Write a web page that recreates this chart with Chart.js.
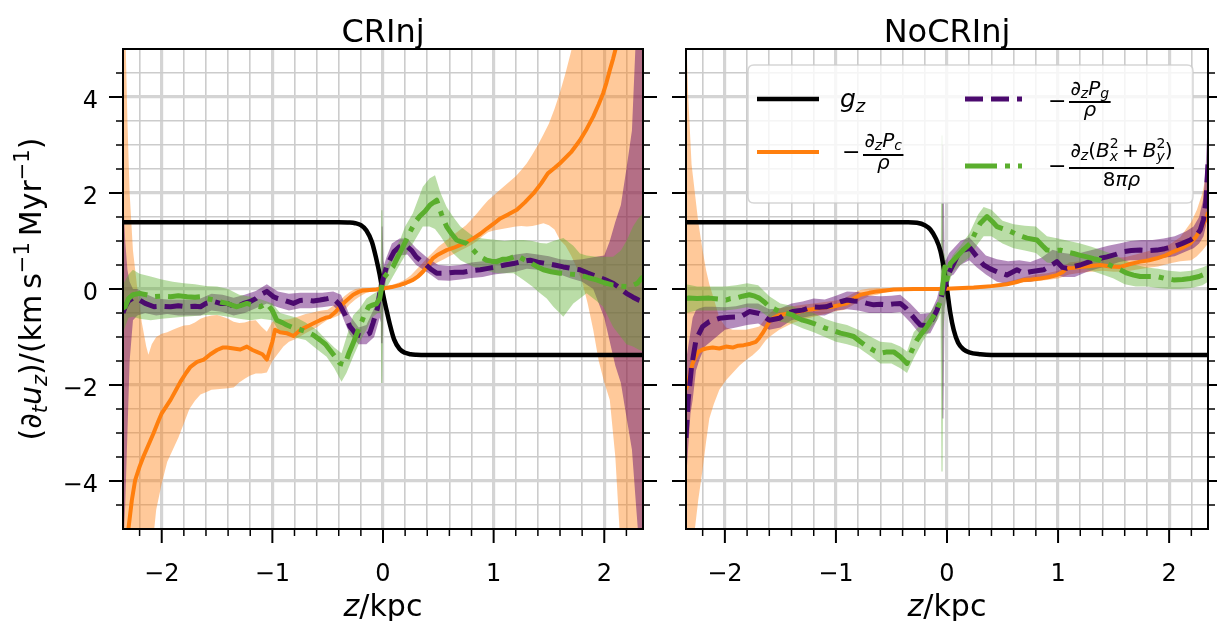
<!DOCTYPE html>
<html lang="en">
<head>
<meta charset="UTF-8">
<title>CRInj / NoCRInj vertical acceleration terms</title>
<script src="https://cdn.jsdelivr.net/npm/chart.js"></script>
<style>
  html, body { margin: 0; padding: 0; background: #fff; overflow: hidden; }
  .wrap { position: relative; width: 1217px; height: 621px; }
  canvas { position: absolute; top: 0; }
  #crChart { left: 0; }
  #ncChart { left: 665px; }
</style>
</head>
<body>
<div class="wrap">
  <canvas id="crChart" width="665" height="621"></canvas>
  <canvas id="ncChart" width="552" height="621"></canvas>
</div>
<script>
// ---- ticks ----
const xMajor = [-2, -1, 0, 1, 2];
const xMinor = [-2.2, -1.8, -1.6, -1.4, -1.2, -0.8, -0.6, -0.4, -0.2, 0.2, 0.4, 0.6, 0.8, 1.2, 1.4, 1.6, 1.8, 2.2];
const yMajor = [-4, -2, 0, 2, 4];
const yMinor = [-4.5, -3.5, -3, -2.5, -1.5, -1, -0.5, 0.5, 1, 1.5, 2.5, 3, 3.5, 4.5];
const panelTitles = ['CRInj', 'NoCRInj'];

// ---- CRInj panel: [z, value] and bands [z, lower, upper] ----
const crGz = [[-2.35,1.39],[-0.4,1.39],[-0.3,1.385],[-0.25,1.37],[-0.2,1.33],[-0.15,1.22],[-0.1,0.98],[-0.06,0.62],[-0.03,0.3],[0,-0.1],[0.03,-0.42],[0.06,-0.72],[0.1,-1.05],[0.15,-1.25],[0.2,-1.33],[0.25,-1.36],[0.3,-1.37],[0.4,-1.375],[2.35,-1.375]];

const crPc = [[-2.33,-5.6],[-2.30,-4.98],[-2.27,-4.4],[-2.24,-3.98],[-2.20,-3.7],[-2.165,-3.49],[-2.12,-3.25],[-2.075,-3.01],[-2.03,-2.75],[-2.00,-2.59],[-1.96,-2.45],[-1.92,-2.31],[-1.87,-2.1],[-1.83,-1.93],[-1.78,-1.75],[-1.74,-1.62],[-1.68,-1.52],[-1.62,-1.47],[-1.56,-1.36],[-1.50,-1.27],[-1.45,-1.22],[-1.41,-1.22],[-1.35,-1.24],[-1.29,-1.26],[-1.23,-1.20],[-1.18,-1.27],[-1.14,-1.31],[-1.09,-1.36],[-1.05,-1.47],[-1.00,-1.10],[-0.976,-0.85],[-0.93,-0.90],[-0.87,-0.92],[-0.81,-0.98],[-0.76,-0.88],[-0.72,-0.82],[-0.65,-0.74],[-0.57,-0.65],[-0.52,-0.60],[-0.48,-0.58],[-0.43,-0.48],[-0.39,-0.37],[-0.33,-0.24],[-0.27,-0.12],[-0.22,-0.06],[-0.18,-0.03],[-0.12,-0.02],[-0.06,-0.01],[0,0.01],[0.08,0.04],[0.15,0.08],[0.21,0.13],[0.27,0.19],[0.32,0.27],[0.36,0.36],[0.41,0.50],[0.45,0.64],[0.50,0.72],[0.575,0.81],[0.64,0.86],[0.70,0.92],[0.76,0.98],[0.82,1.06],[0.88,1.15],[0.94,1.26],[1.00,1.36],[1.06,1.47],[1.13,1.55],[1.21,1.65],[1.28,1.80],[1.36,1.99],[1.43,2.20],[1.49,2.41],[1.55,2.52],[1.60,2.62],[1.70,2.85],[1.78,3.10],[1.84,3.33],[1.90,3.59],[1.95,3.85],[1.99,4.08],[2.02,4.30],[2.05,4.56],[2.08,4.80],[2.10,4.98],[2.13,5.5]];

const crPcBand = [[-2.35,-5.5,5.5],[-2.33,-5.5,5.5],[-2.31,-5.5,3.5],[-2.29,-5.5,2.0],[-2.26,-5.5,0.8],[-2.22,-5.5,0.0],[-2.18,-5.5,-0.7],[-2.14,-5.5,-1.2],[-2.12,-5.5,-1.37],[-2.09,-5.5,-1.15],[-2.05,-4.6,-1.0],[-2.0,-4.05,-0.93],[-1.95,-3.6,-0.9],[-1.9,-3.35,-0.85],[-1.85,-3.1,-0.8],[-1.8,-2.8,-0.76],[-1.75,-2.5,-0.75],[-1.7,-2.33,-0.7],[-1.65,-2.2,-0.62],[-1.6,-2.15,-0.58],[-1.55,-2.1,-0.55],[-1.5,-2.09,-0.54],[-1.45,-2.08,-0.58],[-1.4,-2.07,-0.62],[-1.35,-2.05,-0.68],[-1.3,-1.95,-0.71],[-1.25,-1.87,-0.7],[-1.2,-1.8,-0.66],[-1.15,-1.76,-0.65],[-1.1,-1.76,-0.78],[-1.05,-1.74,-0.89],[-1.0,-1.5,-0.68],[-0.95,-1.35,-0.66],[-0.9,-1.2,-0.64],[-0.85,-1.1,-0.63],[-0.8,-1.05,-0.6],[-0.75,-0.99,-0.56],[-0.7,-0.92,-0.52],[-0.65,-0.86,-0.5],[-0.6,-0.8,-0.47],[-0.55,-0.72,-0.45],[-0.5,-0.64,-0.43],[-0.45,-0.6,-0.35],[-0.4,-0.55,-0.26],[-0.35,-0.45,-0.15],[-0.3,-0.32,-0.06],[-0.25,-0.22,0.0],[-0.2,-0.14,0.02],[-0.15,-0.08,0.02],[-0.1,-0.05,0.02],[-0.05,-0.04,0.03],[0,-0.03,0.05],[0.05,0.0,0.07],[0.1,0.03,0.1],[0.15,0.05,0.14],[0.2,0.08,0.2],[0.25,0.12,0.28],[0.3,0.18,0.4],[0.35,0.27,0.52],[0.4,0.4,0.65],[0.45,0.5,0.76],[0.5,0.56,0.88],[0.55,0.62,0.97],[0.6,0.68,1.06],[0.65,0.74,1.15],[0.7,0.8,1.24],[0.75,0.86,1.33],[0.8,0.92,1.45],[0.85,1.0,1.58],[0.9,1.1,1.72],[0.95,1.18,1.85],[1.0,1.22,1.95],[1.05,1.24,2.05],[1.1,1.26,2.15],[1.15,1.28,2.25],[1.2,1.3,2.35],[1.25,1.31,2.48],[1.3,1.3,2.62],[1.35,1.31,2.8],[1.4,1.34,3.0],[1.45,1.37,3.22],[1.5,1.33,3.45],[1.55,1.24,3.75],[1.6,1.02,4.1],[1.65,0.9,4.5],[1.7,0.7,4.95],[1.75,0.45,5.5],[1.8,0.15,5.5],[1.85,-0.3,5.5],[1.9,-0.85,5.5],[1.95,-1.5,5.5],[2.0,-1.95,5.5],[2.05,-2.31,5.5],[2.1,-3.5,5.5],[2.15,-5.5,5.5],[2.35,-5.5,5.5]];

const crPg = [[-2.35,-0.5],[-2.33,-0.37],[-2.3,-0.25],[-2.26,-0.19],[-2.2,-0.23],[-2.15,-0.3],[-2.07,-0.37],[-2.0,-0.36],[-1.92,-0.37],[-1.85,-0.35],[-1.77,-0.37],[-1.7,-0.36],[-1.65,-0.37],[-1.6,-0.3],[-1.53,-0.26],[-1.47,-0.3],[-1.41,-0.3],[-1.36,-0.35],[-1.32,-0.37],[-1.26,-0.3],[-1.2,-0.26],[-1.15,-0.2],[-1.11,-0.12],[-1.05,-0.05],[-0.99,-0.16],[-0.95,-0.2],[-0.9,-0.23],[-0.85,-0.27],[-0.81,-0.3],[-0.75,-0.24],[-0.69,-0.23],[-0.63,-0.25],[-0.57,-0.23],[-0.52,-0.21],[-0.48,-0.19],[-0.43,-0.24],[-0.39,-0.33],[-0.34,-0.55],[-0.30,-0.78],[-0.24,-0.95],[-0.18,-0.99],[-0.12,-0.92],[-0.09,-0.71],[-0.05,-0.4],[-0.03,-0.1],[0,0.2],[0.03,0.45],[0.06,0.6],[0.1,0.78],[0.15,0.88],[0.21,0.9],[0.26,0.8],[0.3,0.67],[0.35,0.57],[0.39,0.5],[0.44,0.4],[0.485,0.33],[0.575,0.33],[0.65,0.35],[0.725,0.35],[0.8,0.38],[0.88,0.40],[0.95,0.43],[1.03,0.46],[1.1,0.5],[1.18,0.53],[1.25,0.57],[1.33,0.6],[1.4,0.56],[1.48,0.53],[1.55,0.5],[1.63,0.46],[1.7,0.43],[1.78,0.40],[1.85,0.33],[1.93,0.26],[2.0,0.2],[2.08,0.12],[2.14,0.02],[2.2,-0.09],[2.26,-0.17],[2.31,-0.23],[2.35,-0.26]];

const crPgBand = [[-2.35,-5.5,2.0],[-2.33,-4.5,1.0],[-2.31,-3.0,0.4],[-2.29,-1.5,0.15],[-2.26,-0.65,0.0],[-2.22,-0.55,0.0],[-2.15,-0.5,-0.1],[-2.05,-0.55,-0.2],[-1.95,-0.52,-0.22],[-1.85,-0.55,-0.22],[-1.75,-0.55,-0.22],[-1.65,-0.55,-0.2],[-1.55,-0.45,-0.1],[-1.45,-0.48,-0.12],[-1.35,-0.55,-0.18],[-1.25,-0.5,-0.12],[-1.15,-0.4,-0.04],[-1.05,-0.3,0.1],[-0.95,-0.38,-0.05],[-0.85,-0.45,-0.1],[-0.75,-0.4,-0.08],[-0.65,-0.4,-0.08],[-0.55,-0.38,-0.08],[-0.45,-0.35,-0.05],[-0.38,-0.5,-0.12],[-0.3,-0.95,-0.55],[-0.22,-1.15,-0.8],[-0.15,-1.15,-0.75],[-0.08,-1.0,-0.4],[-0.03,-0.6,0.2],[-0.018,-0.7,0.3],[-0.012,-1.13,1.3],[-0.004,-1.13,1.3],[0.003,-0.3,0.6],[0.01,-0.1,0.5],[0.03,0.25,0.65],[0.08,0.55,0.95],[0.15,0.7,1.05],[0.22,0.72,1.05],[0.3,0.5,0.85],[0.4,0.35,0.65],[0.5,0.18,0.5],[0.6,0.17,0.48],[0.7,0.2,0.5],[0.8,0.23,0.55],[0.9,0.25,0.58],[1.0,0.3,0.62],[1.1,0.33,0.66],[1.2,0.36,0.72],[1.3,0.42,0.75],[1.4,0.4,0.72],[1.5,0.36,0.68],[1.6,0.3,0.62],[1.7,0.22,0.6],[1.8,0.15,0.62],[1.9,0.0,0.66],[2.0,-0.6,0.7],[2.05,-1.1,1.0],[2.1,-1.6,1.4],[2.15,-1.96,1.75],[2.2,-2.66,2.5],[2.25,-3.35,3.3],[2.29,-4.6,5.5],[2.32,-5.5,5.5],[2.35,-5.5,5.5]];

const crB = [[-2.35,-0.4],[-2.33,-0.37],[-2.3,-0.2],[-2.26,-0.12],[-2.2,-0.09],[-2.14,-0.12],[-2.07,-0.16],[-2.0,-0.15],[-1.92,-0.16],[-1.85,-0.14],[-1.77,-0.16],[-1.7,-0.17],[-1.65,-0.16],[-1.59,-0.2],[-1.53,-0.23],[-1.47,-0.27],[-1.41,-0.3],[-1.36,-0.34],[-1.32,-0.37],[-1.27,-0.33],[-1.23,-0.3],[-1.17,-0.34],[-1.11,-0.37],[-1.05,-0.3],[-1.0,-0.45],[-0.96,-0.65],[-0.91,-0.7],[-0.87,-0.75],[-0.82,-0.8],[-0.78,-0.82],[-0.73,-0.86],[-0.69,-0.89],[-0.63,-0.96],[-0.57,-1.06],[-0.52,-1.15],[-0.48,-1.27],[-0.43,-1.42],[-0.39,-1.55],[-0.345,-1.58],[-0.31,-1.35],[-0.27,-1.13],[-0.21,-0.78],[-0.17,-0.55],[-0.13,-0.37],[-0.09,-0.33],[-0.06,-0.31],[-0.03,-0.2],[0,0.2],[0.03,0.3],[0.06,0.38],[0.09,0.46],[0.12,0.6],[0.15,0.74],[0.18,0.88],[0.21,1.02],[0.24,1.17],[0.27,1.3],[0.3,1.42],[0.33,1.51],[0.38,1.62],[0.425,1.75],[0.485,1.85],[0.53,1.55],[0.575,1.30],[0.62,1.15],[0.665,1.02],[0.71,0.98],[0.755,0.95],[0.8,0.85],[0.846,0.74],[0.89,0.66],[0.937,0.6],[0.98,0.58],[1.03,0.57],[1.08,0.62],[1.12,0.62],[1.17,0.66],[1.21,0.7],[1.27,0.62],[1.33,0.55],[1.39,0.47],[1.45,0.4],[1.52,0.36],[1.6,0.33],[1.69,0.31],[1.78,0.29],[1.85,0.24],[1.93,0.19],[2.0,0.13],[2.08,0.08],[2.15,0.06],[2.23,0.05],[2.3,0.12],[2.35,0.26]];

const crBBand = [[-2.35,-0.9,0.1],[-2.3,-0.6,0.3],[-2.26,-0.58,0.4],[-2.2,-0.62,0.32],[-2.1,-0.65,0.26],[-2.0,-0.62,0.2],[-1.9,-0.6,0.15],[-1.8,-0.58,0.12],[-1.7,-0.56,0.1],[-1.6,-0.54,0.06],[-1.5,-0.54,0.05],[-1.4,-0.58,0.0],[-1.3,-0.62,-0.12],[-1.2,-0.65,-0.16],[-1.1,-0.62,-0.22],[-1.0,-0.65,-0.3],[-0.93,-0.92,-0.5],[-0.85,-0.98,-0.55],[-0.78,-1.02,-0.6],[-0.7,-1.06,-0.7],[-0.6,-1.25,-0.85],[-0.51,-1.41,-1.06],[-0.44,-1.65,-1.22],[-0.375,-1.93,-1.34],[-0.33,-1.75,-1.0],[-0.27,-1.41,-0.55],[-0.21,-1.1,-0.4],[-0.15,-0.85,-0.2],[-0.1,-0.6,-0.12],[-0.05,-0.5,-0.05],[-0.022,-0.5,0.3],[-0.015,-1.96,1.64],[-0.006,-1.96,1.64],[0.002,-0.4,0.5],[0.02,0.0,0.45],[0.05,0.1,0.55],[0.1,0.3,0.8],[0.15,0.5,1.0],[0.2,0.7,1.3],[0.27,0.95,1.58],[0.36,1.3,2.13],[0.42,1.3,2.3],[0.47,1.25,2.37],[0.52,1.1,2.0],[0.575,0.9,1.71],[0.635,0.74,1.5],[0.7,0.6,1.3],[0.82,0.46,1.09],[0.9,0.4,1.05],[1.03,0.33,1.02],[1.1,0.33,1.0],[1.18,0.33,1.02],[1.27,0.19,1.02],[1.35,0.05,1.0],[1.42,-0.09,0.96],[1.48,-0.2,0.95],[1.54,-0.37,1.0],[1.63,-0.58,1.06],[1.72,-0.3,0.9],[1.78,-0.2,0.74],[1.84,-0.09,0.7],[1.93,-0.25,0.67],[1.99,-0.37,0.67],[2.08,-0.79,0.67],[2.15,-1.0,0.8],[2.2,-1.15,1.0],[2.26,-1.2,1.3],[2.3,-1.25,1.45],[2.35,-1.3,1.58]];

// ---- NoCRInj panel ----
const ncGz = [[-2.35,1.39],[-0.35,1.39],[-0.27,1.38],[-0.2,1.33],[-0.15,1.24],[-0.1,1.05],[-0.06,0.8],[-0.03,0.45],[0,0],[0.03,-0.5],[0.06,-0.85],[0.1,-1.12],[0.15,-1.26],[0.2,-1.32],[0.3,-1.36],[0.4,-1.375],[2.35,-1.375]];

const ncPc = [[-2.35,-2.1],[-2.33,-1.93],[-2.31,-1.72],[-2.29,-1.55],[-2.26,-1.4],[-2.24,-1.31],[-2.2,-1.26],[-2.17,-1.24],[-2.11,-1.22],[-2.05,-1.24],[-1.99,-1.20],[-1.93,-1.22],[-1.88,-1.18],[-1.83,-1.17],[-1.77,-1.14],[-1.72,-1.10],[-1.69,-1.02],[-1.66,-0.92],[-1.63,-0.8],[-1.60,-0.68],[-1.56,-0.6],[-1.51,-0.54],[-1.45,-0.52],[-1.39,-0.51],[-1.33,-0.47],[-1.27,-0.44],[-1.21,-0.42],[-1.15,-0.40],[-1.09,-0.38],[-1.03,-0.37],[-0.96,-0.33],[-0.90,-0.30],[-0.84,-0.2],[-0.78,-0.12],[-0.7,-0.08],[-0.63,-0.05],[-0.55,-0.03],[-0.48,-0.01],[-0.3,0.0],[-0.06,0.0],[0.24,0.03],[0.4,0.06],[0.54,0.10],[0.62,0.14],[0.69,0.19],[0.76,0.2],[0.84,0.22],[0.92,0.25],[0.99,0.29],[1.04,0.35],[1.08,0.43],[1.14,0.44],[1.2,0.46],[1.29,0.48],[1.38,0.5],[1.47,0.47],[1.56,0.46],[1.65,0.52],[1.74,0.57],[1.82,0.6],[1.89,0.64],[1.97,0.7],[2.04,0.78],[2.12,0.86],[2.19,0.95],[2.24,1.08],[2.28,1.23],[2.31,1.36],[2.34,1.51],[2.35,1.6]];

const ncPcBand = [[-2.35,-5.5,5.5],[-2.33,-5.5,4.0],[-2.3,-5.5,2.6],[-2.27,-5.0,2.0],[-2.24,-4.4,1.4],[-2.2,-3.75,0.8],[-2.17,-3.2,0.4],[-2.14,-2.7,0.1],[-2.1,-2.4,-0.2],[-2.05,-2.1,-0.6],[-1.99,-1.9,-0.8],[-1.93,-1.75,-0.85],[-1.87,-1.6,-0.85],[-1.81,-1.48,-0.85],[-1.75,-1.38,-0.82],[-1.69,-1.25,-0.78],[-1.63,-1.06,-0.6],[-1.57,-0.95,-0.45],[-1.51,-0.85,-0.4],[-1.45,-0.78,-0.38],[-1.39,-0.71,-0.36],[-1.3,-0.64,-0.33],[-1.2,-0.58,-0.3],[-1.1,-0.52,-0.27],[-1.0,-0.46,-0.24],[-0.93,-0.44,-0.2],[-0.85,-0.34,-0.1],[-0.78,-0.23,-0.02],[-0.7,-0.15,0.01],[-0.63,-0.12,0.02],[-0.55,-0.07,0.02],[-0.45,-0.03,0.02],[-0.3,-0.02,0.02],[-0.1,-0.02,0.02],[0.1,-0.01,0.03],[0.3,0.0,0.06],[0.5,0.06,0.13],[0.6,0.1,0.18],[0.7,0.14,0.25],[0.8,0.16,0.3],[0.9,0.19,0.33],[1.0,0.22,0.38],[1.1,0.3,0.55],[1.2,0.34,0.58],[1.3,0.36,0.6],[1.4,0.38,0.64],[1.5,0.36,0.65],[1.6,0.36,0.66],[1.7,0.4,0.72],[1.8,0.44,0.78],[1.9,0.47,0.84],[2.0,0.53,0.92],[2.1,0.58,1.08],[2.2,0.6,1.4],[2.25,0.68,1.65],[2.3,0.8,2.0],[2.35,0.95,2.6]];

const ncPg = [[-2.35,-3.1],[-2.33,-2.3],[-2.3,-1.62],[-2.26,-1.06],[-2.2,-0.78],[-2.14,-0.68],[-2.05,-0.61],[-1.96,-0.59],[-1.86,-0.58],[-1.78,-0.47],[-1.69,-0.51],[-1.6,-0.65],[-1.51,-0.61],[-1.45,-0.52],[-1.39,-0.47],[-1.3,-0.44],[-1.21,-0.37],[-1.15,-0.38],[-1.09,-0.37],[-1.0,-0.30],[-0.95,-0.26],[-0.9,-0.23],[-0.84,-0.25],[-0.78,-0.26],[-0.72,-0.3],[-0.66,-0.33],[-0.6,-0.32],[-0.54,-0.33],[-0.48,-0.31],[-0.42,-0.30],[-0.37,-0.4],[-0.33,-0.51],[-0.28,-0.65],[-0.24,-0.75],[-0.19,-0.76],[-0.15,-0.71],[-0.09,-0.44],[-0.03,-0.02],[0.01,0.3],[0.06,0.53],[0.1,0.72],[0.15,0.81],[0.21,0.85],[0.27,0.67],[0.33,0.5],[0.39,0.42],[0.45,0.36],[0.54,0.29],[0.63,0.4],[0.69,0.33],[0.75,0.36],[0.81,0.38],[0.87,0.40],[0.93,0.48],[0.99,0.57],[1.04,0.45],[1.08,0.43],[1.14,0.47],[1.2,0.5],[1.26,0.55],[1.32,0.6],[1.38,0.64],[1.44,0.67],[1.52,0.72],[1.59,0.78],[1.66,0.8],[1.74,0.81],[1.81,0.8],[1.89,0.81],[1.96,0.84],[2.04,0.88],[2.12,0.95],[2.19,1.02],[2.24,1.1],[2.28,1.23],[2.31,1.45],[2.33,1.8],[2.35,2.6]];

const ncPgBand = [[-2.35,-4.0,-1.5],[-2.33,-3.3,-1.2],[-2.31,-2.6,-0.9],[-2.29,-2.31,-0.6],[-2.26,-1.7,-0.44],[-2.23,-1.48,-0.4],[-2.18,-1.2,-0.37],[-2.11,-1.06,-0.37],[-2.0,-0.85,-0.38],[-1.9,-0.8,-0.36],[-1.8,-0.75,-0.3],[-1.7,-0.72,-0.3],[-1.6,-0.85,-0.42],[-1.5,-0.8,-0.4],[-1.4,-0.65,-0.3],[-1.3,-0.6,-0.26],[-1.2,-0.55,-0.2],[-1.1,-0.55,-0.22],[-1.0,-0.45,-0.14],[-0.9,-0.42,-0.05],[-0.8,-0.45,-0.06],[-0.7,-0.5,-0.14],[-0.6,-0.5,-0.15],[-0.5,-0.5,-0.14],[-0.42,-0.48,-0.12],[-0.33,-0.7,-0.3],[-0.24,-0.95,-0.52],[-0.15,-0.92,-0.5],[-0.09,-0.65,-0.2],[-0.05,-0.3,0.2],[-0.042,-2.7,3.0],[-0.032,-2.7,3.0],[-0.022,-0.4,0.6],[-0.01,-0.2,0.6],[0.02,0.25,0.75],[0.06,0.3,0.85],[0.12,0.5,1.0],[0.2,0.6,1.08],[0.27,0.45,0.9],[0.35,0.3,0.7],[0.45,0.15,0.62],[0.55,0.1,0.58],[0.65,0.15,0.6],[0.75,0.15,0.56],[0.85,0.2,0.65],[0.95,0.3,0.82],[1.05,0.25,0.75],[1.15,0.25,0.72],[1.25,0.35,0.78],[1.35,0.42,0.84],[1.45,0.48,0.9],[1.55,0.56,0.95],[1.65,0.6,1.0],[1.75,0.6,1.02],[1.85,0.6,1.02],[1.95,0.65,1.05],[2.05,0.68,1.1],[2.15,0.78,1.2],[2.22,0.85,1.3],[2.27,0.95,1.5],[2.31,1.1,1.9],[2.33,1.3,2.6],[2.35,1.6,3.6]];

const ncB = [[-2.35,-0.2],[-2.33,-0.19],[-2.25,-0.2],[-2.14,-0.19],[-2.05,-0.21],[-1.99,-0.23],[-1.95,-0.2],[-1.9,-0.19],[-1.84,-0.15],[-1.78,-0.12],[-1.73,-0.15],[-1.69,-0.19],[-1.64,-0.28],[-1.6,-0.37],[-1.55,-0.42],[-1.51,-0.47],[-1.45,-0.5],[-1.39,-0.54],[-1.35,-0.6],[-1.3,-0.65],[-1.25,-0.68],[-1.21,-0.71],[-1.15,-0.76],[-1.09,-0.82],[-1.03,-0.86],[-0.96,-0.92],[-0.9,-0.95],[-0.84,-0.99],[-0.78,-1.1],[-0.72,-1.20],[-0.66,-1.28],[-0.6,-1.34],[-0.54,-1.31],[-0.48,-1.31],[-0.42,-1.41],[-0.36,-1.55],[-0.32,-1.3],[-0.27,-1.06],[-0.22,-0.9],[-0.18,-0.78],[-0.13,-0.6],[-0.09,-0.44],[-0.05,-0.2],[-0.02,0.46],[0.0,0.2],[0.03,0.53],[0.08,0.65],[0.14,0.8],[0.21,0.95],[0.26,1.2],[0.30,1.37],[0.36,1.51],[0.41,1.4],[0.45,1.3],[0.5,1.26],[0.54,1.23],[0.59,1.18],[0.63,1.13],[0.68,1.09],[0.72,1.06],[0.81,1.02],[0.86,0.9],[0.90,0.81],[0.96,0.8],[1.02,0.81],[1.08,0.77],[1.14,0.74],[1.2,0.7],[1.26,0.67],[1.32,0.63],[1.38,0.60],[1.44,0.53],[1.50,0.46],[1.56,0.4],[1.62,0.33],[1.68,0.29],[1.74,0.26],[1.82,0.26],[1.89,0.26],[1.96,0.22],[2.04,0.19],[2.12,0.2],[2.19,0.22],[2.27,0.26],[2.34,0.33],[2.35,0.35]];

const ncBBand = [[-2.35,-0.5,0.1],[-2.25,-0.45,0.05],[-2.14,-0.45,0.05],[-2.0,-0.45,0.05],[-1.9,-0.42,0.08],[-1.8,-0.38,0.12],[-1.7,-0.42,0.08],[-1.6,-0.6,-0.15],[-1.5,-0.68,-0.3],[-1.4,-0.72,-0.35],[-1.3,-0.82,-0.45],[-1.2,-0.9,-0.5],[-1.1,-1.0,-0.62],[-1.0,-1.1,-0.7],[-0.9,-1.15,-0.75],[-0.8,-1.22,-0.85],[-0.7,-1.38,-0.98],[-0.6,-1.55,-1.1],[-0.5,-1.55,-1.12],[-0.42,-1.65,-1.2],[-0.36,-1.75,-1.3],[-0.3,-1.45,-0.9],[-0.22,-1.1,-0.7],[-0.14,-0.8,-0.45],[-0.08,-0.62,-0.25],[-0.058,-0.5,0.0],[-0.05,-3.8,3.2],[-0.04,-3.8,3.2],[-0.032,-0.9,0.8],[-0.02,-0.4,0.7],[0.0,0.0,0.4],[0.05,0.35,0.7],[0.12,0.5,0.9],[0.2,0.65,1.15],[0.28,0.95,1.55],[0.33,1.1,1.71],[0.4,1.1,1.65],[0.5,0.95,1.42],[0.6,0.85,1.35],[0.7,0.8,1.32],[0.8,0.75,1.3],[0.9,0.55,1.1],[1.0,0.52,1.05],[1.1,0.5,1.0],[1.2,0.45,0.95],[1.3,0.38,0.88],[1.4,0.3,0.8],[1.5,0.22,0.72],[1.6,0.1,0.6],[1.7,0.05,0.5],[1.8,0.05,0.45],[1.9,0.02,0.42],[2.0,0.0,0.38],[2.1,0.0,0.36],[2.2,0.02,0.38],[2.3,0.08,0.45],[2.35,0.15,0.5]];

// ---- styles ----
const FONT = '"DejaVu Sans", sans-serif';
const ORANGE = '#ff7f0e', ORANGE_FILL = 'rgba(255,127,14,0.42)';
const PURPLE = '#4b0a6e', PURPLE_FILL = 'rgba(89,0,108,0.45)';
const GREEN = '#5aae2d', GREEN_FILL = 'rgba(90,175,45,0.42)';
const LW_BLACK = 4.5, LW_ORANGE = 4, LW_DASH = 5;
const DASH = [18, 8], DASHDOT = [32, 8, 5, 8];

const asXY = arr => arr.map(p => ({ x: p[0], y: p[1] }));
const asHi = arr => arr.map(p => ({ x: p[0], y: p[2] }));

function lineSet(label, data, color, width, dash, order, smooth) {
  return {
    label, data: asXY(data), borderColor: color, borderWidth: width, borderDash: dash,
    borderJoinStyle: 'round', pointRadius: 0, fill: false, order, clip: 0,
    cubicInterpolationMode: smooth ? 'monotone' : 'default'
  };
}
function bandSets(label, data, fillColor, order) {
  return [
    { label: label + ' upper', data: asHi(data), borderColor: 'rgba(0,0,0,0)', borderWidth: 0,
      pointRadius: 0, backgroundColor: fillColor, fill: '+1', order, clip: 0 },
    { label: label + ' lower', data: asXY(data), borderColor: 'rgba(0,0,0,0)', borderWidth: 0,
      pointRadius: 0, fill: false, order, clip: 0 }
  ];
}
function panelSets(gz, pc, pcBand, pg, pgBand, b, bBand) {
  return [
    lineSet('g_z', gz, '#000', LW_BLACK, [], 3, true),
    lineSet('-dzPc/rho', pc, ORANGE, LW_ORANGE, [], 2),
    lineSet('-dzPg/rho', pg, PURPLE, LW_DASH, DASH, 1),
    lineSet('-dz(Bx2+By2)/8pi rho', b, GREEN, LW_DASH, DASHDOT, 0),
    ...bandSets('Pc', pcBand, ORANGE_FILL, 7),
    ...bandSets('Pg', pgBand, PURPLE_FILL, 6),
    ...bandSets('B', bBand, GREEN_FILL, 5)
  ];
}

const fmt = v => (v < 0 ? '\u2212' + Math.abs(v) : String(v));
const sortNum = a => a.slice().sort((p, q) => p - q);

// ---- rich text helpers (sub/superscripts, fractions) ----
const fontStr = (s, it) => (it ? 'italic ' : '') + s + 'px ' + FONT;
function richWidth(ctx, parts) {
  let w = 0;
  parts.forEach(p => {
    if (p.gap) { w += p.gap; return; }
    ctx.font = fontStr(p.s, p.i);
    if (!p.over) w += ctx.measureText(p.t).width;
  });
  return w;
}
function drawRich(ctx, parts, x, y) {
  let cx = x;
  parts.forEach(p => {
    if (p.gap) { cx += p.gap; return; }
    ctx.font = fontStr(p.s, p.i);
    ctx.fillText(p.t, cx, y + (p.dy || 0));
    if (!p.over) cx += ctx.measureText(p.t).width;
  });
}
function drawFrac(ctx, num, den, x, barY, numGap, denGap) {
  const wn = richWidth(ctx, num), wd = richWidth(ctx, den);
  const w = Math.max(wn, wd) + 3;
  ctx.fillRect(x, barY - 1, w, 2);
  drawRich(ctx, num, x + (w - wn) / 2, barY - numGap);
  drawRich(ctx, den, x + (w - wd) / 2, barY + denGap);
}

function drawLegend(ctx, ox) {
  const X = v => v - ox;
  ctx.save();
  const bx = X(748), by = 65, bw = 445, bh = 138, r = 6;
  ctx.beginPath();
  ctx.moveTo(bx + r, by); ctx.lineTo(bx + bw - r, by); ctx.quadraticCurveTo(bx + bw, by, bx + bw, by + r);
  ctx.lineTo(bx + bw, by + bh - r); ctx.quadraticCurveTo(bx + bw, by + bh, bx + bw - r, by + bh);
  ctx.lineTo(bx + r, by + bh); ctx.quadraticCurveTo(bx, by + bh, bx, by + bh - r);
  ctx.lineTo(bx, by + r); ctx.quadraticCurveTo(bx, by, bx + r, by); ctx.closePath();
  ctx.fillStyle = 'rgba(255,255,255,0.8)'; ctx.fill();
  ctx.strokeStyle = 'rgba(204,204,204,0.8)'; ctx.lineWidth = 1.5; ctx.stroke();
  const handle = (x1, x2, y, color, w, dash) => {
    ctx.setLineDash(dash); ctx.strokeStyle = color; ctx.lineWidth = w;
    ctx.beginPath(); ctx.moveTo(X(x1), y); ctx.lineTo(X(x2), y); ctx.stroke();
  };
  handle(757, 819, 99, '#000', LW_BLACK, []);
  handle(757, 819, 152, ORANGE, LW_ORANGE, []);
  handle(965, 1022, 99, PURPLE, LW_DASH, DASH);
  handle(965, 1022, 166, GREEN, LW_DASH, DASHDOT);
  ctx.setLineDash([]);
  ctx.fillStyle = '#000'; ctx.textAlign = 'left'; ctx.textBaseline = 'alphabetic';
  drawRich(ctx, [{ t: 'g', s: 25, i: true }, { t: 'z', s: 18, i: true, dy: 5 }], X(840), 107);
  const minus = (x, cy) => { ctx.font = fontStr(22); ctx.fillText('\u2212', X(x), cy + 7); };
  const F = 20, S = 14;
  minus(842, 152);
  drawFrac(ctx,
    [{ t: '\u2202', s: F }, { t: 'z', s: S, i: true, dy: 3 }, { t: 'P', s: F, i: true }, { t: 'c', s: S, i: true, dy: 3 }],
    [{ t: '\u03c1', s: F, i: true }], X(863), 155, 8, 14);
  minus(1048, 101);
  drawFrac(ctx,
    [{ t: '\u2202', s: F }, { t: 'z', s: S, i: true, dy: 3 }, { t: 'P', s: F, i: true }, { t: 'g', s: S, i: true, dy: 3 }],
    [{ t: '\u03c1', s: F, i: true }], X(1069), 102, 7, 14);
  minus(1048, 166);
  drawFrac(ctx,
    [{ t: '\u2202', s: F }, { t: 'z', s: S, i: true, dy: 3 }, { t: '(', s: F }, { t: 'B', s: F, i: true },
     { t: '2', s: S, dy: -9, over: true }, { t: 'x', s: S, i: true, dy: 4 }, { gap: 4 }, { t: '+', s: F }, { gap: 4 },
     { t: 'B', s: F, i: true }, { t: '2', s: S, dy: -9, over: true }, { t: 'y', s: S, i: true, dy: 4 }, { t: ')', s: F }],
    [{ t: '8', s: F }, { t: '\u03c0', s: F, i: true }, { t: '\u03c1', s: F, i: true }], X(1069), 168, 11, 18);
  ctx.restore();
}

// ---- axes decoration: spines, two-length ticks, tick labels, titles ----
const panelDeco = {
  id: 'panelDeco',
  afterDraw(chart, args, opts) {
    const { ctx, chartArea: a, scales } = chart;
    const xs = scales.x, ys = scales.y;
    ctx.save();
    ctx.strokeStyle = '#000';
    const mark = (x1, y1, x2, y2, w) => {
      ctx.lineWidth = w; ctx.beginPath(); ctx.moveTo(x1, y1); ctx.lineTo(x2, y2); ctx.stroke();
    };
    xMajor.forEach(v => { const p = xs.getPixelForValue(v); mark(p, a.bottom, p, a.bottom + 14, 2); });
    xMinor.forEach(v => { const p = xs.getPixelForValue(v); mark(p, a.bottom, p, a.bottom + 7, 1.5); });
    yMajor.forEach(v => {
      const p = ys.getPixelForValue(v);
      mark(a.left - 14, p, a.left, p, 2); mark(a.right, p, a.right + 14, p, 2);
    });
    yMinor.forEach(v => {
      const p = ys.getPixelForValue(v);
      mark(a.left - 7, p, a.left, p, 1.5); mark(a.right, p, a.right + 7, p, 1.5);
    });
    ctx.lineWidth = 2;
    ctx.strokeRect(a.left, a.top, a.right - a.left, a.bottom - a.top);

    ctx.fillStyle = '#000';
    ctx.textBaseline = 'alphabetic';
    ctx.font = fontStr(24);
    ctx.textAlign = 'center';
    xMajor.forEach(v => ctx.fillText(fmt(v), xs.getPixelForValue(v), a.bottom + 52));
    if (opts.yTicks) {
      ctx.textAlign = 'right';
      yMajor.forEach(v => ctx.fillText(fmt(v), a.left - 25, ys.getPixelForValue(v) + 11));
    }

    const cx = (a.left + a.right) / 2;
    ctx.textAlign = 'center';
    ctx.font = fontStr(32);
    ctx.fillText(opts.title, cx, 42);

    ctx.textAlign = 'left';
    const xl = [{ t: 'z', s: 30, i: true }, { t: '/kpc', s: 30 }];
    drawRich(ctx, xl, cx - richWidth(ctx, xl) / 2, 616);

    if (opts.yLabel) {
      const yl = [{ t: '(', s: 30 }, { t: '\u2202', s: 30 }, { t: 't', s: 21, i: true, dy: 6 },
        { t: 'u', s: 30, i: true }, { t: 'z', s: 21, i: true, dy: 6 }, { t: ')/(km', s: 30 }, { gap: 6 },
        { t: 's', s: 30 }, { t: '\u22121', s: 21, dy: -12 }, { gap: 6 }, { t: 'Myr', s: 30 },
        { t: '\u22121', s: 21, dy: -12 }, { t: ')', s: 30 }];
      ctx.save();
      ctx.translate(41, (a.top + a.bottom) / 2);
      ctx.rotate(-Math.PI / 2);
      drawRich(ctx, yl, -richWidth(ctx, yl) / 2, 0);
      ctx.restore();
    }
    if (opts.legend) drawLegend(ctx, opts.offset);
    ctx.restore();
  }
};

function gridOpts(major) {
  return {
    drawTicks: false,
    color: c => (c.tick && major.includes(c.tick.value) ? '#d4d4d4' : '#cccccc'),
    lineWidth: c => (c.tick && major.includes(c.tick.value) ? 3.2 : 1.6)
  };
}

function makeChart(id, datasets, deco, yWidth, padRight) {
  return new Chart(document.getElementById(id), {
    type: 'line',
    data: { datasets },
    plugins: [panelDeco],
    options: {
      responsive: false, animation: false, devicePixelRatio: 1,
      layout: { padding: { top: 49, right: padRight, left: 0, bottom: 0 } },
      plugins: { legend: { display: false }, tooltip: { enabled: false }, panelDeco: deco },
      scales: {
        x: {
          type: 'linear', min: -2.35, max: 2.35,
          afterBuildTicks: s => { s.ticks = sortNum(xMajor.concat(xMinor)).map(v => ({ value: v })); },
          afterFit: s => { s.height = 92; },
          ticks: { display: false, autoSkip: false },
          grid: gridOpts(xMajor), border: { display: false }
        },
        y: {
          type: 'linear', min: -5, max: 5,
          afterBuildTicks: s => { s.ticks = sortNum(yMajor.concat(yMinor)).map(v => ({ value: v })); },
          afterFit: s => { s.width = yWidth; },
          ticks: { display: false, autoSkip: false },
          grid: gridOpts(yMajor), border: { display: false }
        }
      }
    }
  });
}

makeChart('crChart', panelSets(crGz, crPc, crPcBand, crPg, crPgBand, crB, crBBand),
  { title: panelTitles[0], yLabel: true, yTicks: true, legend: false, offset: 0 }, 123, 22);
makeChart('ncChart', panelSets(ncGz, ncPc, ncPcBand, ncPg, ncPgBand, ncB, ncBBand),
  { title: panelTitles[1], yLabel: false, yTicks: false, legend: true, offset: 665 }, 21, 9);
</script>
</body>
</html>
